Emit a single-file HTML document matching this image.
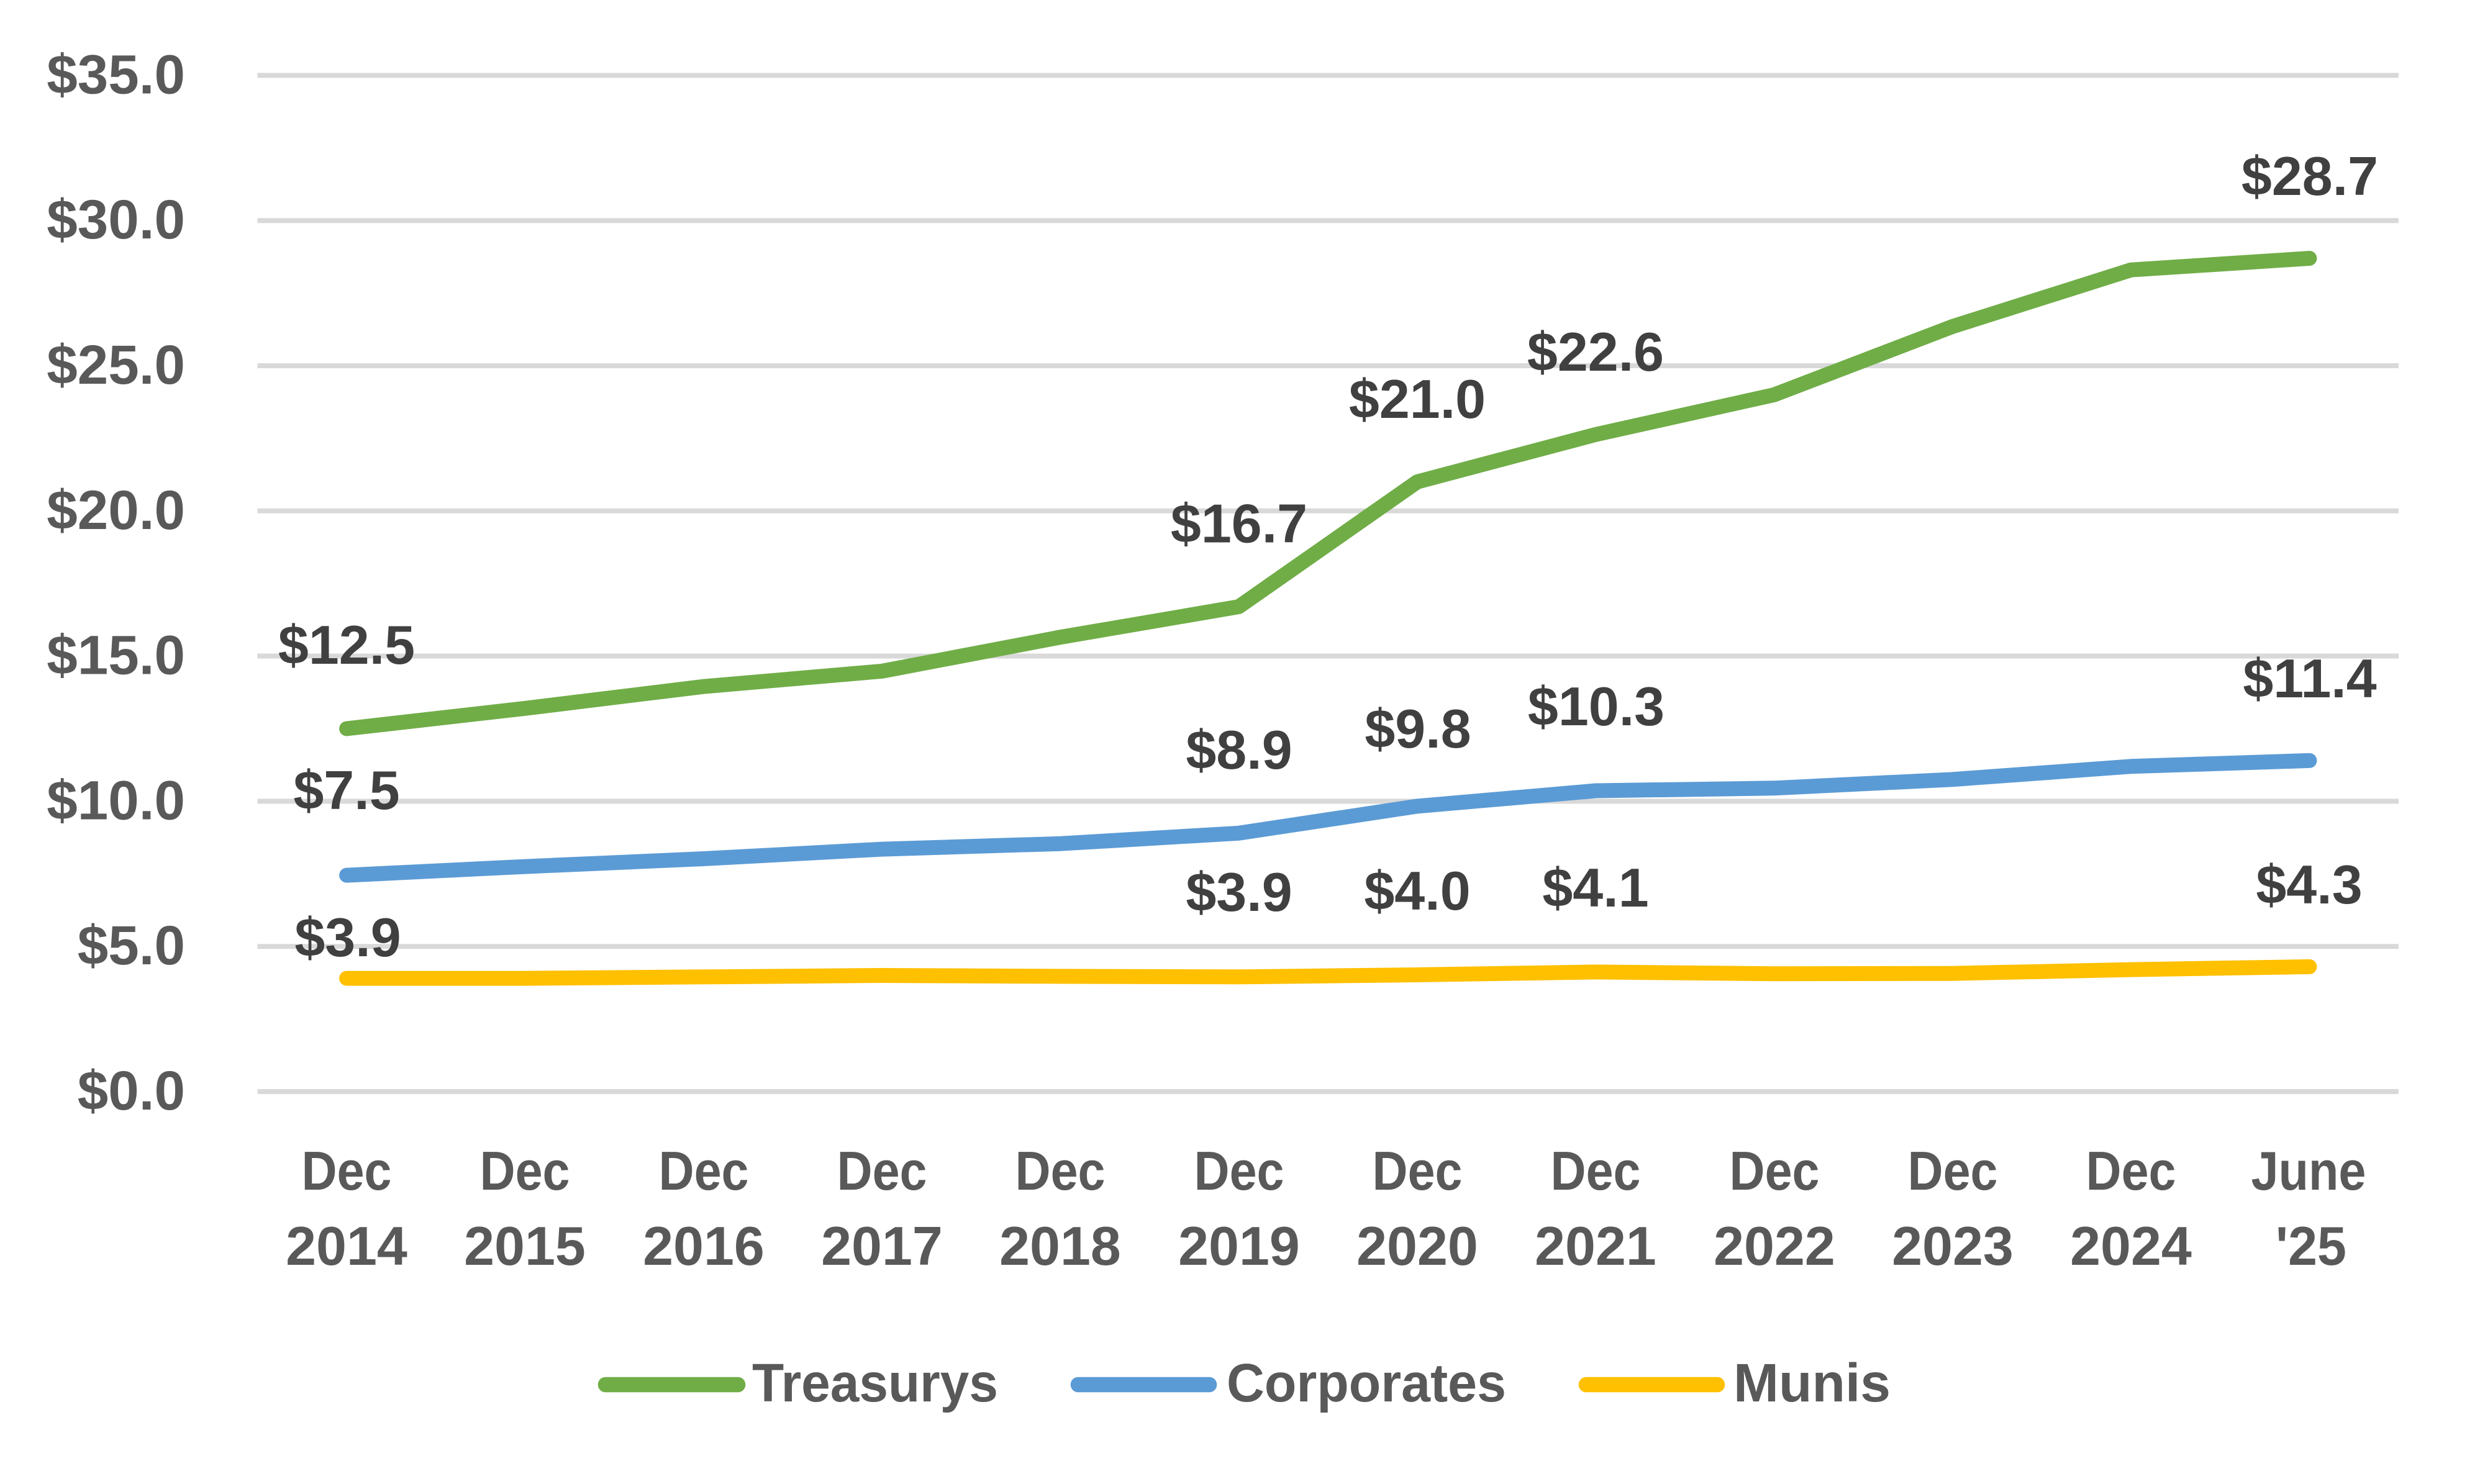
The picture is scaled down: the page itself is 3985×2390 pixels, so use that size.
<!DOCTYPE html>
<html>
<head>
<meta charset="utf-8">
<style>
  html, body { margin: 0; padding: 0; background: #ffffff; }
  svg { display: block; }
  text { font-family: "Liberation Sans", Arial, sans-serif; font-weight: bold; }
</style>
</head>
<body>
<svg width="3985" height="2390" viewBox="0 0 3985 2390" xmlns="http://www.w3.org/2000/svg">
  <rect x="0" y="0" width="3985" height="2390" fill="#ffffff"/>

  <!-- gridlines -->
  <g stroke="#d9d9d9" stroke-width="8">
    <line x1="414.5" y1="121.4" x2="3862" y2="121.4"/>
    <line x1="414.5" y1="355.2" x2="3862" y2="355.2"/>
    <line x1="414.5" y1="589.0" x2="3862" y2="589.0"/>
    <line x1="414.5" y1="822.8" x2="3862" y2="822.8"/>
    <line x1="414.5" y1="1056.6" x2="3862" y2="1056.6"/>
    <line x1="414.5" y1="1290.4" x2="3862" y2="1290.4"/>
    <line x1="414.5" y1="1524.2" x2="3862" y2="1524.2"/>
    <line x1="414.5" y1="1758" x2="3862" y2="1758"/>
  </g>

  <!-- y-axis labels -->
  <g fill="#595959" font-size="89" text-anchor="end">
    <text x="298" y="150.4">$35.0</text>
    <text x="298" y="384.2">$30.0</text>
    <text x="298" y="618.0">$25.0</text>
    <text x="298" y="851.8">$20.0</text>
    <text x="298" y="1085.6">$15.0</text>
    <text x="298" y="1319.4">$10.0</text>
    <text x="298" y="1553.2">$5.0</text>
    <text x="298" y="1787">$0.0</text>
  </g>

  <!-- x-axis labels -->
  <g fill="#595959" font-size="88" text-anchor="middle">
    <text x="558" y="1916" textLength="145" lengthAdjust="spacingAndGlyphs">Dec</text>
    <text x="845" y="1916" textLength="145" lengthAdjust="spacingAndGlyphs">Dec</text>
    <text x="1133" y="1916" textLength="145" lengthAdjust="spacingAndGlyphs">Dec</text>
    <text x="1420" y="1916" textLength="145" lengthAdjust="spacingAndGlyphs">Dec</text>
    <text x="1707" y="1916" textLength="145" lengthAdjust="spacingAndGlyphs">Dec</text>
    <text x="1995" y="1916" textLength="145" lengthAdjust="spacingAndGlyphs">Dec</text>
    <text x="2282" y="1916" textLength="145" lengthAdjust="spacingAndGlyphs">Dec</text>
    <text x="2569" y="1916" textLength="145" lengthAdjust="spacingAndGlyphs">Dec</text>
    <text x="2857" y="1916" textLength="145" lengthAdjust="spacingAndGlyphs">Dec</text>
    <text x="3144" y="1916" textLength="145" lengthAdjust="spacingAndGlyphs">Dec</text>
    <text x="3431" y="1916" textLength="145" lengthAdjust="spacingAndGlyphs">Dec</text>
    <text x="3717" y="1916" textLength="185" lengthAdjust="spacingAndGlyphs">June</text>

    <text x="558" y="2037">2014</text>
    <text x="845" y="2037">2015</text>
    <text x="1133" y="2037">2016</text>
    <text x="1420" y="2037">2017</text>
    <text x="1707" y="2037">2018</text>
    <text x="1995" y="2037">2019</text>
    <text x="2282" y="2037">2020</text>
    <text x="2569" y="2037">2021</text>
    <text x="2857" y="2037">2022</text>
    <text x="3144" y="2037">2023</text>
    <text x="3431" y="2037">2024</text>
    <text x="3721" y="2037" textLength="114" lengthAdjust="spacingAndGlyphs">'25</text>
  </g>

  <!-- series -->
  <g fill="none" stroke-width="24" stroke-linecap="round" stroke-linejoin="round">
    <polyline stroke="#ffc000" points="558.15,1575.6 845.45,1575.6 1132.75,1573.3 1420.05,1571.0 1707.35,1572.4 1994.65,1573.3 2281.95,1570.0 2569.25,1565.4 2856.55,1568.2 3143.85,1567.7 3431.15,1561.6 3718.45,1556.9"/>
    <polyline stroke="#5b9bd5" points="558.15,1409.6 845.45,1395.6 1132.75,1383.0 1420.05,1367.6 1707.35,1358.7 1994.65,1341.8 2281.95,1298.4 2569.25,1273.5 2856.55,1269.3 3143.85,1255.3 3431.15,1234.3 3718.45,1224.9"/>
    <polyline stroke="#70ad47" points="558.15,1173.5 845.45,1140.8 1132.75,1105.7 1420.05,1080.9 1707.35,1026.2 1994.65,977.1 2281.95,776.0 2569.25,699.8 2856.55,635.8 3143.85,525.8 3431.15,434.7 3718.45,416.0"/>
  </g>

  <!-- data labels -->
  <g fill="#404040" font-size="88" text-anchor="middle">
    <text x="558" y="1069">$12.5</text>
    <text x="1995" y="873.5">$16.7</text>
    <text x="2282" y="673">$21.0</text>
    <text x="2569" y="597">$22.6</text>
    <text x="3719" y="314">$28.7</text>

    <text x="558" y="1303">$7.5</text>
    <text x="1995" y="1238">$8.9</text>
    <text x="2283" y="1204">$9.8</text>
    <text x="2570" y="1168">$10.3</text>
    <text x="3719" y="1123">$11.4</text>

    <text x="560" y="1540">$3.9</text>
    <text x="1995" y="1467">$3.9</text>
    <text x="2282" y="1465">$4.0</text>
    <text x="2569" y="1460">$4.1</text>
    <text x="3718" y="1455">$4.3</text>
  </g>

  <!-- legend -->
  <g stroke-width="24.6" stroke-linecap="round">
    <line x1="975" y1="2230" x2="1188" y2="2230" stroke="#70ad47"/>
    <line x1="1736" y1="2230" x2="1947" y2="2230" stroke="#5b9bd5"/>
    <line x1="2554" y1="2230" x2="2765" y2="2230" stroke="#ffc000"/>
  </g>
  <g fill="#595959" font-size="87">
    <text x="1211" y="2257" textLength="396" lengthAdjust="spacingAndGlyphs">Treasurys</text>
    <text x="1975" y="2257" textLength="450" lengthAdjust="spacingAndGlyphs">Corporates</text>
    <text x="2791" y="2257" textLength="253" lengthAdjust="spacingAndGlyphs">Munis</text>
  </g>
</svg>
</body>
</html>
